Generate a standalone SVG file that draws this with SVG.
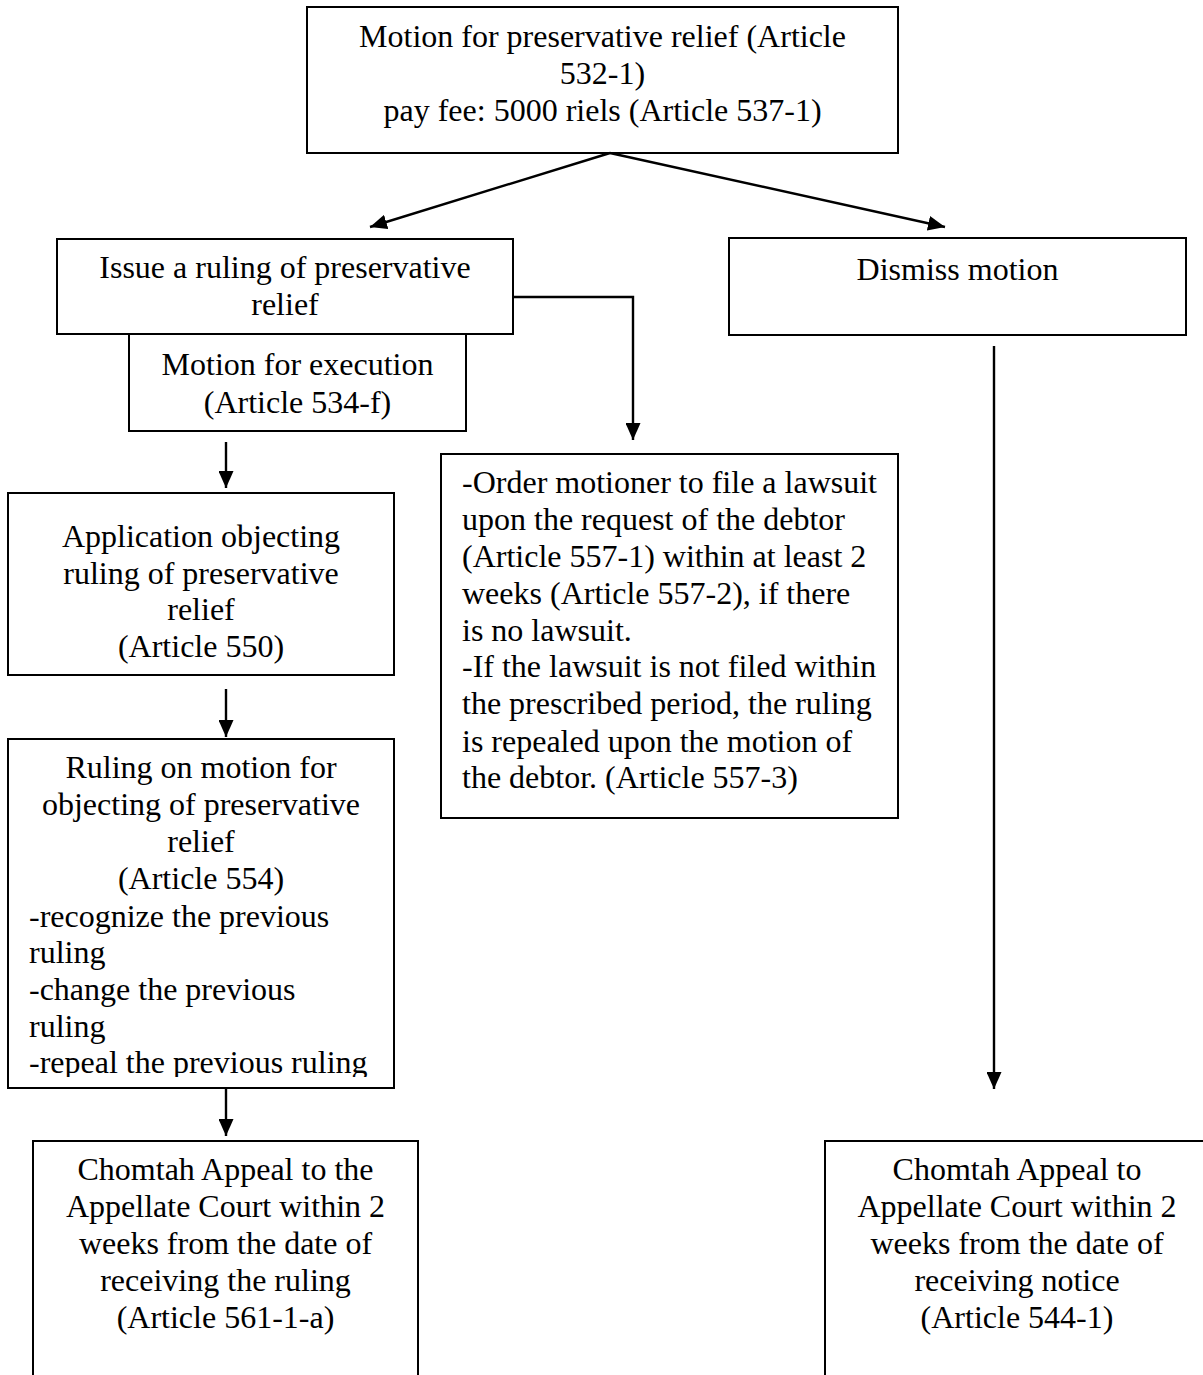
<svg xmlns="http://www.w3.org/2000/svg" width="1203" height="1375" viewBox="0 0 1203 1375">
<style>
.box{fill:#fff;stroke:#000;stroke-width:2}
.t{font-family:"Liberation Serif","Times New Roman",serif;font-size:32px;fill:#000}
.c{text-anchor:middle}
.conn{fill:none;stroke:#000;stroke-width:2.4}
</style>
<defs>
<marker id="ah" viewBox="0 0 17 15" refX="17" refY="7.5" markerWidth="17" markerHeight="15" markerUnits="userSpaceOnUse" orient="auto">
<path d="M0,0 L17,7.5 L0,15 z" fill="#000"/>
</marker>
<clipPath id="clipRuling"><rect x="8" y="739" width="386" height="338"/></clipPath>
</defs>
<rect width="1203" height="1375" fill="#fff"/>

<g id="n-motion">
<rect class="box" x="307" y="7" width="591" height="146"/>
<text class="t c" x="602.5" y="47">Motion for preservative relief (Article</text>
<text class="t c" x="602.5" y="84">532-1)</text>
<text class="t c" x="602.5" y="121">pay fee: 5000 riels (Article 537-1)</text>
</g>

<g id="n-issue">
<rect class="box" x="57" y="239" width="456" height="95"/>
<text class="t c" x="285" y="278">Issue a ruling of preservative</text>
<text class="t c" x="285" y="315">relief</text>
</g>

<g id="n-execution">
<rect class="box" x="129" y="334" width="337" height="97"/>
<text class="t c" x="297.5" y="375">Motion for execution</text>
<text class="t c" x="297.5" y="413">(Article 534-f)</text>
</g>

<g id="n-dismiss">
<rect class="box" x="729" y="238" width="457" height="97"/>
<text class="t c" x="957.5" y="280">Dismiss motion</text>
</g>

<g id="n-application">
<rect class="box" x="8" y="493" width="386" height="182"/>
<text class="t c" x="201" y="547">Application objecting</text>
<text class="t c" x="201" y="584">ruling of preservative</text>
<text class="t c" x="201" y="620">relief</text>
<text class="t c" x="201" y="657">(Article 550)</text>
</g>

<g id="n-order">
<rect class="box" x="441" y="454" width="457" height="364"/>
<text class="t" x="462" y="493">-Order motioner to file a lawsuit</text>
<text class="t" x="462" y="530">upon the request of the debtor</text>
<text class="t" x="462" y="567">(Article 557-1) within at least 2</text>
<text class="t" x="462" y="604">weeks (Article 557-2), if there</text>
<text class="t" x="462" y="641">is no lawsuit.</text>
<text class="t" x="462" y="677">-If the lawsuit is not filed within</text>
<text class="t" x="462" y="714">the prescribed period, the ruling</text>
<text class="t" x="462" y="752">is repealed upon the motion of</text>
<text class="t" x="462" y="788">the debtor. (Article 557-3)</text>
</g>

<g id="n-ruling">
<rect class="box" x="8" y="739" width="386" height="349"/>
<g clip-path="url(#clipRuling)">
<text class="t c" x="201" y="778">Ruling on motion for</text>
<text class="t c" x="201" y="815">objecting of preservative</text>
<text class="t c" x="201" y="852">relief</text>
<text class="t c" x="201" y="889">(Article 554)</text>
<text class="t" x="29" y="927">-recognize the previous</text>
<text class="t" x="29" y="963">ruling</text>
<text class="t" x="29" y="1000">-change the previous</text>
<text class="t" x="29" y="1037">ruling</text>
<text class="t" x="29" y="1073">-repeal the previous ruling</text>
</g>
</g>

<g id="n-appeal-left">
<path class="box" d="M33,1385 V1141 H418 V1385"/>
<text class="t c" x="225.5" y="1180">Chomtah Appeal to the</text>
<text class="t c" x="225.5" y="1217">Appellate Court within 2</text>
<text class="t c" x="225.5" y="1254">weeks from the date of</text>
<text class="t c" x="225.5" y="1291">receiving the ruling</text>
<text class="t c" x="225.5" y="1328">(Article 561-1-a)</text>
</g>

<g id="n-appeal-right">
<path class="box" d="M825,1385 V1141 H1210"/>
<text class="t c" x="1017" y="1180">Chomtah Appeal to</text>
<text class="t c" x="1017" y="1217">Appellate Court within 2</text>
<text class="t c" x="1017" y="1254">weeks from the date of</text>
<text class="t c" x="1017" y="1291">receiving notice</text>
<text class="t c" x="1017" y="1328">(Article 544-1)</text>
</g>

<g id="connectors">
<line class="conn" x1="610" y1="153" x2="370" y2="227" marker-end="url(#ah)"/>
<line class="conn" x1="610" y1="153" x2="945" y2="227" marker-end="url(#ah)"/>
<polyline class="conn" points="513,297 633,297 633,440" marker-end="url(#ah)"/>
<line class="conn" x1="226" y1="442" x2="226" y2="488" marker-end="url(#ah)"/>
<line class="conn" x1="226" y1="689" x2="226" y2="737" marker-end="url(#ah)"/>
<line class="conn" x1="226" y1="1088" x2="226" y2="1136" marker-end="url(#ah)"/>
<line class="conn" x1="994" y1="346" x2="994" y2="1089" marker-end="url(#ah)"/>
</g>
</svg>
